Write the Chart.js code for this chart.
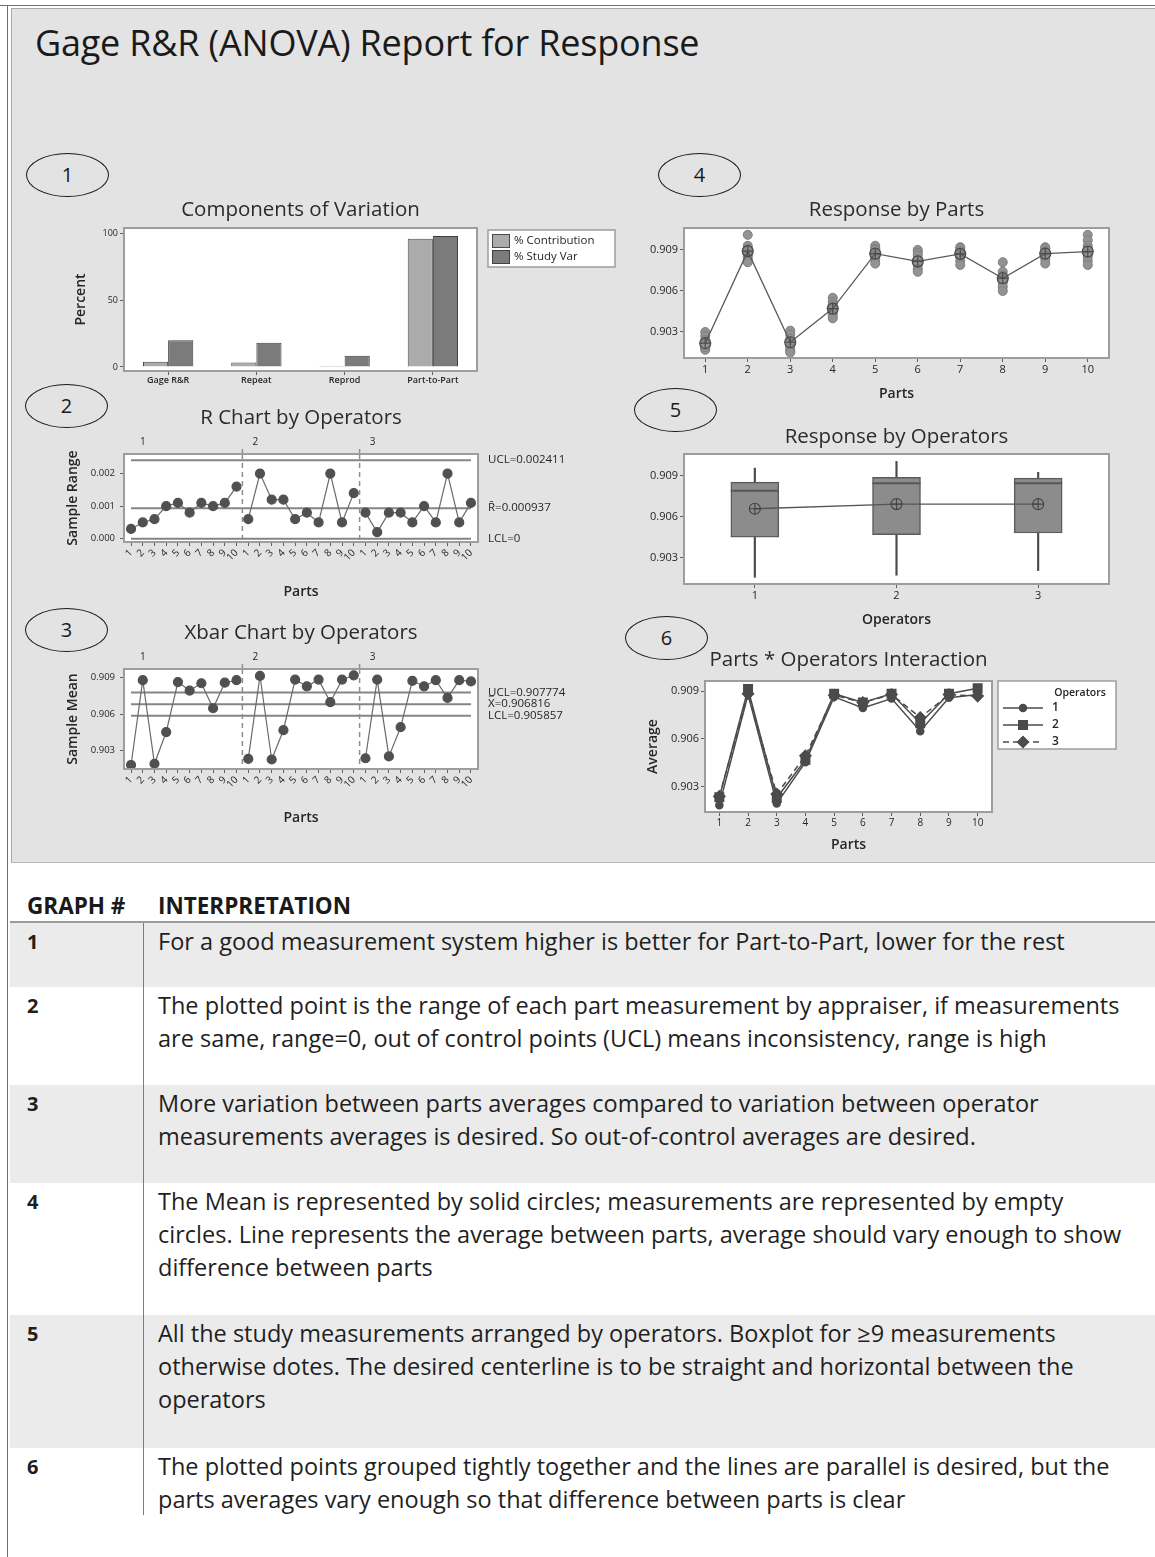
<!DOCTYPE html>
<html>
<head>
<meta charset="utf-8">
<title>Gage R&amp;R (ANOVA) Report for Response</title>
<script src="https://cdn.jsdelivr.net/npm/chart.js@4.4.1/dist/chart.umd.min.js"></script>
<style>
  html, body { margin: 0; padding: 0; background: #fff; }
  body { width: 1155px; height: 1557px; position: relative; overflow: hidden;
         font-family: 'Open Sans', 'Noto Sans', sans-serif; color: #1f1f1f; }
  .rule-top { position: absolute; left: 0; top: 5px; width: 1155px; border-top: 1px solid #6f6f6f; }
  .rule-left { position: absolute; left: 7px; top: 5px; height: 1552px; border-left: 1px solid #6f6f6f; }
  #report { position: absolute; left: 11px; top: 8px; width: 1144px; height: 853px; background: #e3e3e3;
            border-top: 1px solid #a8a8a8; border-left: 1px solid #a8a8a8; border-bottom: 1px solid #b8b8b8; }
  #report h1 { position: absolute; left: 23px; top: 14px; margin: 0; font-size: 36px; line-height: 40px; font-weight: 400;
               letter-spacing: -0.2px; color: #1a1a1a; white-space: nowrap; }
  #report canvas { position: absolute; }
  .tag { position: absolute; width: 81px; height: 42px; border: 1.4px solid #1a1a1a; border-radius: 50%;
         text-align: center; line-height: 42px; font-size: 20px; color: #1a1a1a; }
  .row { position: absolute; left: 10px; width: 1145px; }
  .row.shade { background: #ebebeb; }
  .num { position: absolute; left: 17px; top: 1.5px; font-weight: 700; font-size: 20px; line-height: 33px; }
  .txt { position: absolute; left: 148px; top: 1.5px; font-size: 23.5px; line-height: 33px; white-space: nowrap; color: #1f1f1f; }
  .head { position: absolute; top: 890px; font-weight: 700; font-size: 22.5px; line-height: 32px; color: #1a1a1a; white-space: nowrap; }
  .hline { position: absolute; left: 10px; top: 921px; width: 1145px; height: 2px; background: #9c9c9c; }
  .vline { position: absolute; left: 143px; top: 923px; width: 1px; height: 592px; background: #7c7c7c; }
</style>
</head>
<body>
<div class="rule-top"></div>
<div class="rule-left"></div>

<div id="report">
  <h1>Gage R&amp;R (ANOVA) Report for Response</h1>
  <div class="tag" style="left:14px;top:144px;">1</div>
  <div class="tag" style="left:646px;top:144px;">4</div>
  <div class="tag" style="left:13px;top:375px;">2</div>
  <div class="tag" style="left:622px;top:379px;">5</div>
  <div class="tag" style="left:13px;top:599px;">3</div>
  <div class="tag" style="left:613px;top:607px;">6</div>
</div>

<div class="head" style="left:27px;">GRAPH #</div>
<div class="head" style="left:158px;">INTERPRETATION</div>
<div class="hline"></div>

<div class="row shade" style="top:923px;height:64px;">
  <div class="num">1</div>
  <div class="txt">For a good measurement system higher is better for Part-to-Part, lower for the rest</div>
</div>
<div class="row" style="top:987px;height:98px;">
  <div class="num">2</div>
  <div class="txt">The plotted point is the range of each part measurement by appraiser, if measurements<br>are same, range=0, out of control points (UCL) means inconsistency, range is high</div>
</div>
<div class="row shade" style="top:1085px;height:98px;">
  <div class="num">3</div>
  <div class="txt">More variation between parts averages compared to variation between operator<br>measurements averages is desired. So out-of-control averages are desired.</div>
</div>
<div class="row" style="top:1183px;height:132px;">
  <div class="num">4</div>
  <div class="txt">The Mean is represented by solid circles; measurements are represented by empty<br>circles. Line represents the average between parts, average should vary enough to show<br>difference between parts</div>
</div>
<div class="row shade" style="top:1315px;height:133px;">
  <div class="num">5</div>
  <div class="txt">All the study measurements arranged by operators. Boxplot for ≥9 measurements<br>otherwise dotes. The desired centerline is to be straight and horizontal between the<br>operators</div>
</div>
<div class="row" style="top:1448px;height:67px;">
  <div class="num">6</div>
  <div class="txt">The plotted points grouped tightly together and the lines are parallel is desired, but the<br>parts averages vary enough so that difference between parts is clear</div>
</div>
<div class="vline"></div>

<script>
// ---------- Components of Variation ----------
const varianceSources = ['Gage R&R', 'Repeat', 'Reprod', 'Part-to-Part'];
const pctContribution = [4.0, 3.3, 0.7, 96.0];
const pctStudyVar = [20.0, 18.2, 8.4, 98.0];
const percentTicks = [0, 50, 100];

// ---------- shared categories ----------
const parts = ['1', '2', '3', '4', '5', '6', '7', '8', '9', '10'];
const operators = ['1', '2', '3'];

// ---------- R chart: sample range of each part, per operator ----------
const rangeOp1 = [0.0003, 0.0005, 0.0006, 0.0010, 0.0011, 0.0008, 0.0011, 0.0010, 0.0011, 0.0016];
const rangeOp2 = [0.0006, 0.0020, 0.0012, 0.0012, 0.0006, 0.0008, 0.0005, 0.0020, 0.0005, 0.0014];
const rangeOp3 = [0.0008, 0.0002, 0.0008, 0.0008, 0.0005, 0.0010, 0.0005, 0.0020, 0.0005, 0.0011];
const rangeUCL = 0.002411;
const rangeCenter = 0.000937;
const rangeLCL = 0;
const rangeTicks = [0, 0.001, 0.002];

// ---------- Xbar chart / interaction: part average per operator ----------
const meanOp1 = [0.90183, 0.90878, 0.90193, 0.90453, 0.90863, 0.90793, 0.90853, 0.90648, 0.90858, 0.90878];
const meanOp2 = [0.90233, 0.90913, 0.90228, 0.90468, 0.90883, 0.90828, 0.90883, 0.90698, 0.90883, 0.90918];
const meanOp3 = [0.90238, 0.90883, 0.90253, 0.90493, 0.90873, 0.90828, 0.90878, 0.90733, 0.90878, 0.90868];
const meanUCL = 0.907774;
const meanCenter = 0.906816;
const meanLCL = 0.905857;
const responseTicks = [0.903, 0.906, 0.909];

// ---------- Response by Parts: individual measurements and part means ----------
const measurements = [
  [0.9030, 0.9027, 0.9024, 0.9022, 0.9020, 0.9018, 0.9017, 0.9019, 0.9021],
  [0.9101, 0.9093, 0.9091, 0.9090, 0.9089, 0.9087, 0.9085, 0.9083, 0.9081],
  [0.9031, 0.9028, 0.9025, 0.9023, 0.9022, 0.9020, 0.9018, 0.9016, 0.9015],
  [0.9055, 0.9052, 0.9050, 0.9048, 0.9047, 0.9046, 0.9044, 0.9042, 0.9040],
  [0.9093, 0.9091, 0.9090, 0.9088, 0.9087, 0.9086, 0.9085, 0.9083, 0.9080],
  [0.9090, 0.9088, 0.9086, 0.9083, 0.9082, 0.9080, 0.9079, 0.9076, 0.9074],
  [0.9092, 0.9091, 0.9089, 0.9088, 0.9087, 0.9086, 0.9085, 0.9082, 0.9079],
  [0.9081, 0.9074, 0.9071, 0.9069, 0.9068, 0.9067, 0.9066, 0.9063, 0.9060],
  [0.9092, 0.9091, 0.9089, 0.9088, 0.9087, 0.9086, 0.9085, 0.9083, 0.9080],
  [0.9101, 0.9097, 0.9093, 0.9091, 0.9089, 0.9087, 0.9085, 0.9082, 0.9079]
];
const partMeans = [0.90218, 0.90891, 0.90225, 0.90471, 0.90873, 0.90816, 0.90871, 0.90693, 0.90873, 0.90888];

// ---------- Response by Operators: box plot summaries ----------
const opLow    = [0.90159, 0.90174, 0.90208];
const opQ1     = [0.90453, 0.90471, 0.90483];
const opMedian = [0.90792, 0.90847, 0.90847];
const opQ3     = [0.90855, 0.90889, 0.90884];
const opHigh   = [0.90957, 0.91006, 0.90926];
const opMeans  = [0.90660, 0.90694, 0.90693];

// ======================================================================
const FONT = "'Open Sans', 'Noto Sans', sans-serif";
Chart.defaults.font.family = FONT;
Chart.defaults.color = '#262626';
Chart.defaults.animation = false;
Chart.defaults.responsive = false;
Chart.defaults.maintainAspectRatio = false;
Chart.defaults.events = [];
Chart.defaults.plugins.legend.display = false;
Chart.defaults.plugins.tooltip.enabled = false;

const INK = '#4b4b4b';
const FRAME = '#9d9d9d';

// white plot area, grey frame and centred panel title
const panelFrame = {
  id: 'panelFrame',
  beforeDraw(chart) {
    const { ctx, chartArea: a } = chart;
    ctx.save();
    ctx.fillStyle = '#ffffff';
    ctx.fillRect(a.left, a.top, a.width, a.height);
    ctx.restore();
  },
  afterDraw(chart, args, o) {
    const { ctx, chartArea: a } = chart;
    ctx.save();
    ctx.strokeStyle = FRAME;
    ctx.lineWidth = 2;
    ctx.strokeRect(a.left, a.top, a.width, a.height);
    if (o.text) {
      ctx.fillStyle = '#2b2b2b';
      ctx.font = '20.5px ' + FONT;
      ctx.textAlign = 'center';
      ctx.textBaseline = 'middle';
      ctx.fillText(o.text, (a.left + a.right) / 2, a.top - o.lift);
    }
    ctx.restore();
  }
};

// operator sections, control-limit labels for the R and Xbar charts
const controlMarks = {
  id: 'controlMarks',
  afterDatasetsDraw(chart, args, o) {
    if (!o.groups) return;
    const { ctx, chartArea: a, scales: { x, y } } = chart;
    ctx.save();
    ctx.strokeStyle = '#8e8e8e';
    ctx.lineWidth = 1.5;
    for (let g = 1; g < o.groups; g++) {
      const px = x.getPixelForValue(g * o.size - 0.5);
      ctx.setLineDash([5, 4]);
      ctx.beginPath(); ctx.moveTo(px, a.top); ctx.lineTo(px, a.bottom); ctx.stroke();
      ctx.setLineDash([]);
      ctx.beginPath(); ctx.moveTo(px, a.top - 5); ctx.lineTo(px, a.top); ctx.stroke();
    }
    ctx.fillStyle = '#262626';
    ctx.font = '10px ' + FONT;
    ctx.textAlign = 'center';
    ctx.textBaseline = 'middle';
    for (let g = 0; g < o.groups; g++) {
      ctx.fillText(o.labels[g], x.getPixelForValue(g * o.size + (g === 0 ? 1 : 0.6)), a.top - 12);
    }
    ctx.textAlign = 'left';
    ctx.font = '11.5px ' + FONT;
    o.items.forEach(it => {
      ctx.fillText(it.text, a.right + 10, y.getPixelForValue(it.value));
    });
    ctx.restore();
  }
};

// medians across the boxes of a box plot
const boxMedians = {
  id: 'boxMedians',
  afterDatasetsDraw(chart, args, o) {
    if (o.values === undefined) return;
    const { ctx, scales: { y } } = chart;
    const meta = chart.getDatasetMeta(o.dataset);
    ctx.save();
    ctx.strokeStyle = '#565656';
    ctx.lineWidth = 2;
    meta.data.forEach((bar, i) => {
      const py = y.getPixelForValue(o.values[i]);
      ctx.beginPath();
      ctx.moveTo(bar.x - bar.width / 2, py);
      ctx.lineTo(bar.x + bar.width / 2, py);
      ctx.stroke();
    });
    ctx.restore();
  }
};

// framed legend drawn from the chart's own datasets
const boxLegend = {
  id: 'boxLegend',
  afterDraw(chart, args, o) {
    if (!o.datasets) return;
    const { ctx, chartArea: a } = chart;
    const x0 = a.right + o.dx, y0 = a.top + o.dy;
    ctx.save();
    ctx.fillStyle = '#ffffff';
    ctx.fillRect(x0, y0, o.w, o.h);
    ctx.strokeStyle = FRAME;
    ctx.lineWidth = 1.5;
    ctx.strokeRect(x0, y0, o.w, o.h);
    ctx.textBaseline = 'middle';
    const top = y0 + o.first;
    if (o.title) {
      ctx.fillStyle = '#262626';
      ctx.textAlign = 'center';
      ctx.font = '600 10.5px ' + FONT;
      ctx.fillText(o.title, x0 + o.titleX, y0 + 12);
    }
    ctx.textAlign = 'left';
    o.datasets.forEach((di, i) => {
      const ds = chart.data.datasets[di];
      const cy = top + i * o.step;
      if (o.kind === 'swatch') {
        ctx.fillStyle = ds.backgroundColor;
        ctx.strokeStyle = ds.borderColor;
        ctx.lineWidth = 1;
        ctx.fillRect(x0 + 4, cy - 7, 18, 14);
        ctx.strokeRect(x0 + 4.5, cy - 6.5, 17, 13);
        ctx.fillStyle = '#262626';
        ctx.font = '11.5px ' + FONT;
        ctx.fillText(ds.label, x0 + 26, cy);
      } else {
        ctx.strokeStyle = ds.borderColor;
        ctx.lineWidth = ds.borderWidth;
        ctx.setLineDash(ds.borderDash || []);
        ctx.beginPath(); ctx.moveTo(x0 + 5, cy); ctx.lineTo(x0 + 45, cy); ctx.stroke();
        ctx.setLineDash([]);
        ctx.fillStyle = ds.pointBackgroundColor;
        Chart.helpers.drawPoint(ctx, { pointStyle: ds.pointStyle, radius: ds.pointRadius, rotation: 0, borderWidth: 1 }, x0 + 25, cy);
        ctx.fillStyle = '#262626';
        ctx.font = '600 12px ' + FONT;
        ctx.fillText(ds.label, x0 + 54, cy);
      }
    });
    ctx.restore();
  }
};

Chart.register(panelFrame, controlMarks, boxMedians, boxLegend);

// ---------- layout helpers ----------
function mount(region) {
  const c = document.createElement('canvas');
  c.width = region.w; c.height = region.h;
  c.style.left = (region.x - 11) + 'px';
  c.style.top = (region.y - 8) + 'px';
  c.style.width = region.w + 'px';
  c.style.height = region.h + 'px';
  document.getElementById('report').appendChild(c);
  return c;
}
function pad(region, plot, yW, xH) {
  return {
    left: plot.l - region.x - yW,
    top: plot.t - region.y,
    right: region.x + region.w - plot.r,
    bottom: region.y + region.h - plot.b - xH
  };
}
const tickGrid = { drawOnChartArea: false, drawTicks: true, tickLength: 4, color: '#606060', lineWidth: 1, offset: false };
const axisTitleFont = { size: 14, weight: '600' };

function valueAxis({ min, max, ticks, digits, width, title, size, gap }) {
  return {
    type: 'linear', min, max,
    afterBuildTicks: s => { s.ticks = ticks.map(v => ({ value: v })); },
    afterFit: s => { s.width = width; },
    grid: tickGrid,
    border: { display: false },
    ticks: { font: { size }, padding: gap || 2, callback: v => (digits ? v.toFixed(digits) : String(v)) },
    title: title ? { display: true, text: title, font: axisTitleFont, padding: 0 } : { display: false }
  };
}

// ---------- 1. Components of Variation ----------
(function () {
  const region = { x: 20, y: 190, w: 610, h: 210 };
  const plot = { l: 123, t: 227, r: 476, b: 370 };
  new Chart(mount(region), {
    type: 'bar',
    data: {
      labels: varianceSources,
      datasets: [
        { label: '% Contribution', data: pctContribution, backgroundColor: '#ababab', borderColor: '#4a4a4a', borderWidth: 1 },
        { label: '% Study Var', data: pctStudyVar, backgroundColor: '#7b7b7b', borderColor: '#3f3f3f', borderWidth: 1 }
      ]
    },
    options: {
      layout: { padding: pad(region, plot, 51, 14) },
      datasets: { bar: { categoryPercentage: 0.57, barPercentage: 1.0 } },
      scales: {
        x: {
          afterFit: s => { s.height = 14; },
          grid: tickGrid, border: { display: false },
          ticks: { font: { size: 9, weight: '600' }, padding: 0, maxRotation: 0, autoSkip: false }
        },
        y: valueAxis({ min: -3, max: 104, ticks: percentTicks, digits: 0, width: 51, title: 'Percent', size: 9 })
      },
      plugins: {
        panelFrame: { text: 'Components of Variation', lift: 18 },
        boxLegend: { datasets: [0, 1], kind: 'swatch', dx: 11, dy: 2, w: 127, h: 37, first: 11, step: 16 }
      }
    }
  });
})();

// ---------- 2 & 3. R and Xbar charts by operator ----------
function controlChart(region, plot, xH, series, limits, yAxisOpts, title, items) {
  const perOp = parts.length;
  const last = series.length * perOp - 1;
  const datasets = [];
  limits.forEach(v => datasets.push({
    data: [{ x: 0, y: v }, { x: last, y: v }],
    borderColor: '#858585', borderWidth: 2, pointRadius: 0, order: 5
  }));
  series.forEach((vals, k) => datasets.push({
    data: vals.map((v, i) => ({ x: k * perOp + i, y: v })),
    borderColor: '#6a6a6a', borderWidth: 1.2,
    pointRadius: 4.5, pointBackgroundColor: '#505050', pointBorderColor: '#505050', order: 1
  }));
  new Chart(mount(region), {
    type: 'line',
    data: { datasets },
    options: {
      layout: { padding: pad(region, plot, yAxisOpts.width, xH) },
      scales: {
        x: {
          type: 'linear', min: -0.6, max: last + 0.6,
          afterBuildTicks: s => { s.ticks = Array.from({ length: last + 1 }, (_, i) => ({ value: i })); },
          afterFit: s => { s.height = xH; },
          grid: tickGrid, border: { display: false },
          ticks: { font: { size: 10 }, padding: 1, minRotation: 45, maxRotation: 45, autoSkip: false,
                   callback: v => parts[v % perOp] },
          title: { display: true, text: 'Parts', font: axisTitleFont, padding: 0 }
        },
        y: valueAxis(yAxisOpts)
      },
      plugins: {
        panelFrame: { text: title, lift: 36 },
        controlMarks: { groups: series.length, size: perOp, labels: operators, items }
      }
    }
  });
}

controlChart(
  { x: 20, y: 395, w: 580, h: 210 }, { l: 123, t: 453, r: 477, b: 541 }, 58,
  [rangeOp1, rangeOp2, rangeOp3], [rangeUCL, rangeCenter, rangeLCL],
  { min: -0.0001, max: 0.0026, ticks: rangeTicks, digits: 3, width: 59, title: 'Sample Range', size: 9.5, gap: 5 },
  'R Chart by Operators',
  [{ text: 'UCL=' + rangeUCL, value: rangeUCL },
   { text: 'R\u0304=' + rangeCenter, value: rangeCenter },
   { text: 'LCL=' + rangeLCL, value: rangeLCL }]
);

controlChart(
  { x: 20, y: 610, w: 580, h: 225 }, { l: 123, t: 668, r: 477, b: 768 }, 57,
  [meanOp1, meanOp2, meanOp3], [meanUCL, meanCenter, meanLCL],
  { min: 0.9015, max: 0.9097, ticks: responseTicks, digits: 3, width: 59, title: 'Sample Mean', size: 9.5, gap: 5 },
  'Xbar Chart by Operators',
  [{ text: 'UCL=' + meanUCL, value: meanUCL },
   { text: 'X\u033F=' + meanCenter, value: meanCenter },
   { text: 'LCL=' + meanLCL, value: meanLCL }]
);

// ---------- 4. Response by Parts ----------
(function () {
  const region = { x: 620, y: 190, w: 520, h: 212 };
  const plot = { l: 683, t: 227, r: 1108, b: 357 };
  const dots = [];
  measurements.forEach((vals, p) => vals.forEach(v => dots.push({ x: parts[p], y: v })));
  new Chart(mount(region), {
    type: 'line',
    data: {
      labels: parts,
      datasets: [
        { data: dots, showLine: false, pointRadius: 4.5, pointBackgroundColor: '#939393', pointBorderColor: '#7e7e7e', pointBorderWidth: 1, order: 3 },
        { data: partMeans, borderColor: '#5a5a5a', borderWidth: 1.3, pointStyle: 'circle', pointRadius: 5.5,
          pointBackgroundColor: 'rgba(0,0,0,0)', pointBorderColor: '#4a4a4a', pointBorderWidth: 1.2, order: 2 },
        { data: partMeans, showLine: false, pointStyle: 'cross', pointRadius: 5.5, pointBorderColor: '#4a4a4a', pointBorderWidth: 1.2, order: 1 }
      ]
    },
    options: {
      layout: { padding: pad(region, plot, 40, 44) },
      scales: {
        x: {
          type: 'category', offset: true,
          afterFit: s => { s.height = 44; },
          grid: tickGrid, border: { display: false },
          ticks: { font: { size: 11 }, padding: 1, maxRotation: 0, autoSkip: false },
          title: { display: true, text: 'Parts', font: axisTitleFont, padding: 0 }
        },
        y: valueAxis({ min: 0.9011, max: 0.9106, ticks: responseTicks, digits: 3, width: 40, size: 11 })
      },
      plugins: { panelFrame: { text: 'Response by Parts', lift: 18 } }
    }
  });
})();

// ---------- 5. Response by Operators ----------
(function () {
  const region = { x: 620, y: 415, w: 520, h: 215 };
  const plot = { l: 683, t: 453, r: 1108, b: 583 };
  new Chart(mount(region), {
    type: 'bar',
    data: {
      labels: operators,
      datasets: [
        { type: 'bar', data: opLow.map((v, i) => [v, opHigh[i]]), barThickness: 1.5, backgroundColor: '#4a4a4a', grouped: false, order: 4 },
        { type: 'bar', data: opQ1.map((v, i) => [v, opQ3[i]]), barThickness: 48, backgroundColor: '#8c8c8c',
          borderColor: '#5c5c5c', borderWidth: 1.5, borderSkipped: false, grouped: false, order: 3 },
        { type: 'line', data: opMeans, borderColor: '#555555', borderWidth: 1.3, pointStyle: 'circle', pointRadius: 5.5,
          pointBackgroundColor: 'rgba(0,0,0,0)', pointBorderColor: '#444444', pointBorderWidth: 1.2, order: 2 },
        { type: 'line', data: opMeans, showLine: false, pointStyle: 'cross', pointRadius: 5.5, pointBorderColor: '#444444', pointBorderWidth: 1.2, order: 1 }
      ]
    },
    options: {
      layout: { padding: pad(region, plot, 40, 44) },
      scales: {
        x: {
          type: 'category', offset: true,
          afterFit: s => { s.height = 44; },
          grid: tickGrid, border: { display: false },
          ticks: { font: { size: 11 }, padding: 1, maxRotation: 0 },
          title: { display: true, text: 'Operators', font: axisTitleFont, padding: 0 }
        },
        y: valueAxis({ min: 0.9011, max: 0.9106, ticks: responseTicks, digits: 3, width: 40, size: 11 })
      },
      plugins: {
        panelFrame: { text: 'Response by Operators', lift: 17 },
        boxMedians: { dataset: 1, values: opMedian }
      }
    }
  });
})();

// ---------- 6. Parts * Operators Interaction ----------
(function () {
  const region = { x: 620, y: 640, w: 525, h: 215 };
  const plot = { l: 704, t: 680, r: 991, b: 811 };
  new Chart(mount(region), {
    type: 'line',
    data: {
      labels: parts,
      datasets: [
        { label: operators[0], data: meanOp1, borderColor: INK, borderWidth: 1.5, pointStyle: 'circle', pointRadius: 3.5,
          pointBackgroundColor: INK, pointBorderColor: INK },
        { label: operators[1], data: meanOp2, borderColor: INK, borderWidth: 1.5, pointStyle: 'rect', pointRadius: 6,
          pointBackgroundColor: INK, pointBorderColor: INK },
        { label: operators[2], data: meanOp3, borderColor: INK, borderWidth: 1.5, borderDash: [6, 4], pointStyle: 'rectRot', pointRadius: 5.5,
          pointBackgroundColor: INK, pointBorderColor: INK }
      ]
    },
    options: {
      layout: { padding: pad(region, plot, 60, 41) },
      scales: {
        x: {
          type: 'category', offset: true,
          afterFit: s => { s.height = 41; },
          grid: tickGrid, border: { display: false },
          ticks: { font: { size: 10 }, padding: 1, maxRotation: 0, autoSkip: false },
          title: { display: true, text: 'Parts', font: axisTitleFont, padding: 0 }
        },
        y: valueAxis({ min: 0.9014, max: 0.90963, ticks: responseTicks, digits: 3, width: 60, title: 'Average', size: 11 })
      },
      plugins: {
        panelFrame: { text: 'Parts * Operators Interaction', lift: 21 },
        boxLegend: { datasets: [0, 1, 2], kind: 'line', title: 'Operators', titleX: 82, dx: 6, dy: 0, w: 118, h: 68, first: 27, step: 17 }
      }
    }
  });
})();
</script>
</body>
</html>
